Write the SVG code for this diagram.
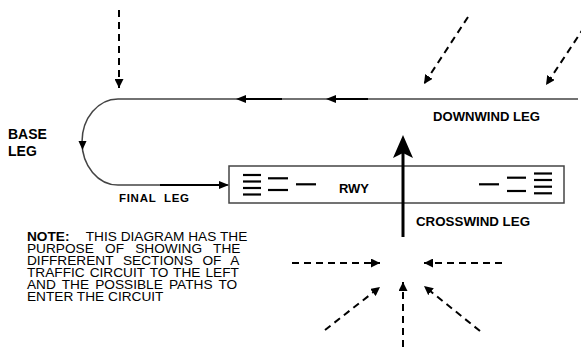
<svg xmlns="http://www.w3.org/2000/svg" width="581" height="347" viewBox="0 0 581 347">
<style>
.lbl{font-family:"Liberation Sans",Arial,sans-serif;font-weight:bold;fill:#000}
.note{font-family:"Liberation Sans",Arial,sans-serif;font-size:12px;fill:#000}
.circ{fill:none;stroke:#444;stroke-width:1.5}
.thick{stroke:#000;stroke-width:2}
.dash{fill:none;stroke:#000;stroke-width:2;stroke-dasharray:7 5;marker-end:url(#ah)}
.mark{stroke:#000;stroke-width:2.2}
.head{fill:#000}
</style>
<defs>
<marker id="ah" viewBox="0 0 10 10" refX="10" refY="5" markerWidth="9" markerHeight="9" markerUnits="userSpaceOnUse" orient="auto">
<path d="M0,0 L10,5 L0,10 z" fill="#000"/>
</marker>
</defs>
<rect width="581" height="347" fill="#fff"/>

<g id="runway">
<rect x="229" y="166" width="335" height="37" fill="#fff" stroke="#444" stroke-width="1.5"/>
<g class="mark">
<line x1="243" y1="175" x2="261" y2="175"/>
<line x1="243" y1="181.5" x2="261" y2="181.5"/>
<line x1="243" y1="188" x2="261" y2="188"/>
<line x1="243" y1="194.5" x2="261" y2="194.5"/>
<line x1="268" y1="178.3" x2="288" y2="178.3"/>
<line x1="268" y1="190" x2="288" y2="190"/>
<line x1="296" y1="184.3" x2="316" y2="184.3"/>
<line x1="479" y1="184.3" x2="499" y2="184.3"/>
<line x1="507" y1="177.7" x2="526" y2="177.7"/>
<line x1="507" y1="191" x2="526" y2="191"/>
<line x1="534" y1="173.5" x2="552" y2="173.5"/>
<line x1="534" y1="180" x2="552" y2="180"/>
<line x1="534" y1="186.7" x2="552" y2="186.7"/>
<line x1="534" y1="193.3" x2="552" y2="193.3"/>
</g>
<text class="lbl" x="339" y="193" font-size="12" textLength="30" lengthAdjust="spacingAndGlyphs">RWY</text>
</g>

<g id="connectors">
<path class="circ" d="M578,99 L118,99 A36,43 0 0 0 118,185 L228,185"/>
<line class="thick" x1="282" y1="99" x2="240" y2="99"/>
<polygon class="head" points="236,99 246,95 246,103"/>
<line class="thick" x1="368" y1="99" x2="330" y2="99"/>
<polygon class="head" points="326,99 336,95 336,103"/>
<polygon class="head" points="82.5,150 78.5,141 86.5,141"/>
<line class="thick" x1="160" y1="185" x2="222" y2="185"/>
<polygon class="head" points="229,185 219,181 219,189"/>
<line x1="403" y1="237" x2="403" y2="152" stroke="#000" stroke-width="3"/>
<polygon class="head" points="403,135 393,158 403,153 413,158"/>
<line class="dash" x1="119" y1="10" x2="119" y2="88"/>
<line class="dash" x1="468" y1="17" x2="424" y2="84"/>
<line class="dash" x1="591" y1="17" x2="546" y2="85"/>
<line class="dash" x1="292" y1="263" x2="380" y2="263"/>
<line class="dash" x1="502" y1="263" x2="424" y2="263"/>
<line class="dash" x1="325" y1="330" x2="380" y2="287"/>
<line class="dash" x1="403" y1="347" x2="403" y2="282"/>
<line class="dash" x1="480" y1="331" x2="424" y2="286"/>
</g>

<g id="labels">
<text class="lbl" x="8" y="139" font-size="14">BASE</text>
<text class="lbl" x="8" y="156" font-size="14">LEG</text>
<text class="lbl" x="119" y="201.7" font-size="11.5" textLength="70" lengthAdjust="spacing" xml:space="preserve">FINAL  LEG</text>
<text class="lbl" x="433" y="120.7" font-size="12.5" textLength="107" lengthAdjust="spacingAndGlyphs">DOWNWIND LEG</text>
<text class="lbl" x="416" y="225.7" font-size="12.5" textLength="114" lengthAdjust="spacingAndGlyphs">CROSSWIND LEG</text>
</g>

<g id="note" class="note" transform="translate(27,0) scale(1.14,1) translate(-27,0)">
<text x="27" y="241.5"><tspan font-weight="bold">NOTE:</tspan><tspan x="78.5">THIS DIAGRAM HAS THE</tspan></text>
<text x="27" y="253.5" word-spacing="6.5">PURPOSE OF SHOWING THE</text>
<text x="27" y="265.5" word-spacing="5.1">DIFFRERENT SECTIONS OF A</text>
<text x="27" y="277.5" word-spacing="1.05">TRAFFIC CIRCUIT TO THE LEFT</text>
<text x="27" y="289.5" word-spacing="2.05">AND THE POSSIBLE PATHS TO</text>
<text x="27" y="301.5">ENTER THE CIRCUIT</text>
</g>
</svg>
